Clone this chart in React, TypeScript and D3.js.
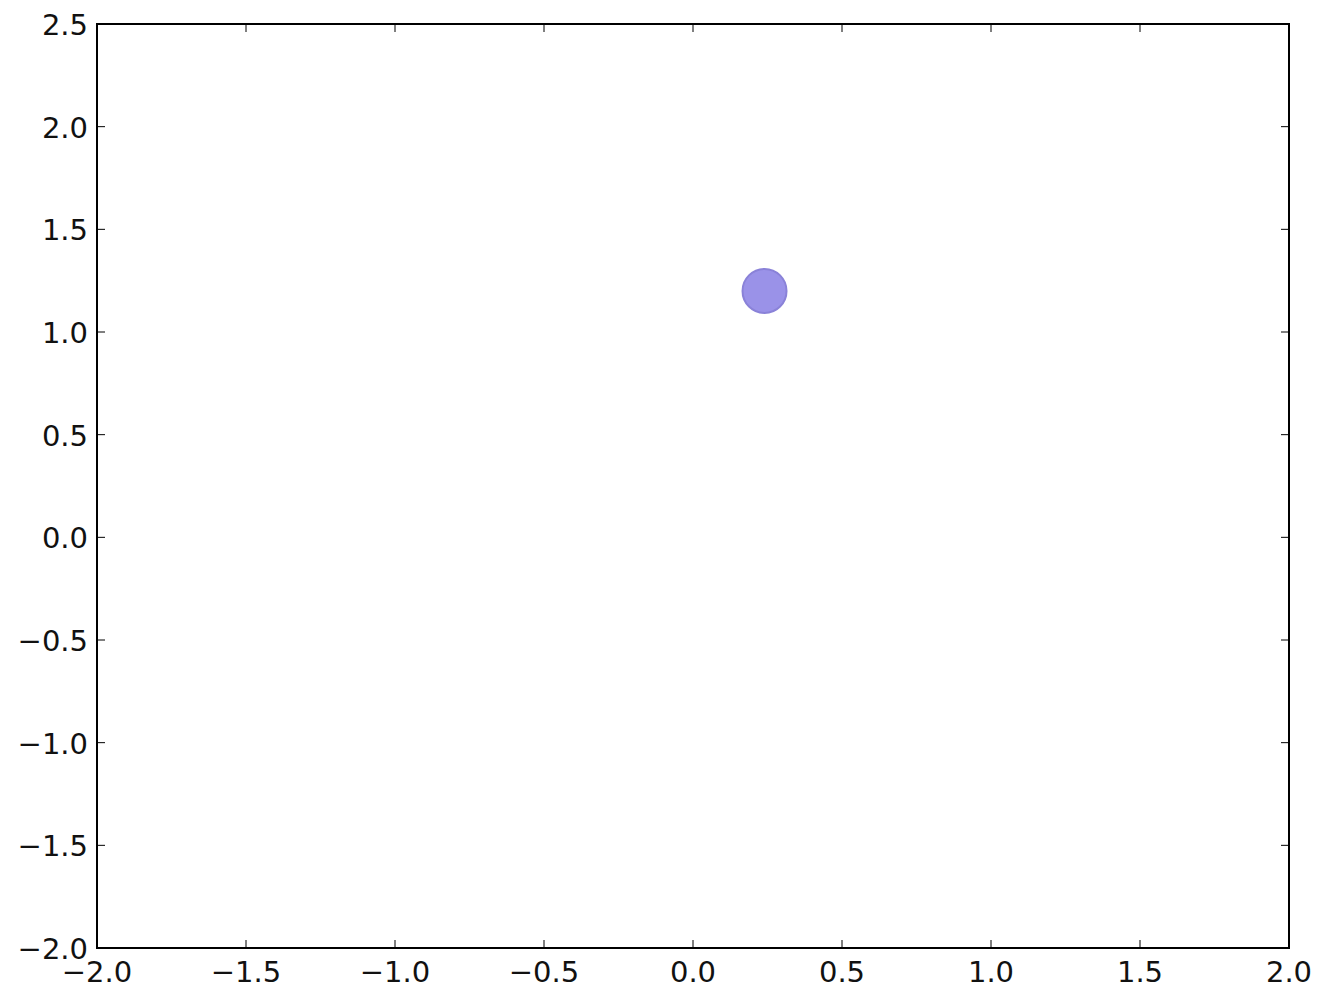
import React from "react";
import * as d3 from "d3";

const xTicks = [-2.0, -1.5, -1.0, -0.5, 0.0, 0.5, 1.0, 1.5, 2.0];
const yTicks = [-2.0, -1.5, -1.0, -0.5, 0.0, 0.5, 1.0, 1.5, 2.0, 2.5];
const pointsX = [0.24];
const pointsY = [1.2];
const xDomain = [-2, 2];
const yDomain = [-2, 2.5];

const W = 1319, H = 992;
const L = 97, R = 1289, T = 24, B = 948;

const fmt = (v: number) => {
  const s = v.toFixed(1);
  return v < 0 ? "\u2212" + s.slice(1) : s;
};

export default function App() {
  const x = d3.scaleLinear().domain(xDomain).range([L, R]);
  const y = d3.scaleLinear().domain(yDomain).range([B, T]);
  const tl = 8;
  const font = "DejaVu Sans, sans-serif";
  return (
    <svg width={W} height={H} style={{ position: "absolute", left: 0, top: 0, background: "#fff" }}>
      <rect x={0} y={0} width={W} height={H} fill="#fff" />
      {pointsX.map((px, i) => (
        <circle key={i} cx={x(px)} cy={y(pointsY[i])} r={22} fill="#9a92e8" stroke="#8a82d8" strokeWidth={2} />
      ))}
      {xTicks.map((t) => (
        <g key={"x" + t}>
          <line x1={x(t)} x2={x(t)} y1={B} y2={B - tl} stroke="#000" strokeWidth={1} />
          <line x1={x(t)} x2={x(t)} y1={T} y2={T + tl} stroke="#000" strokeWidth={1} />
          <text x={x(t)} y={982} textAnchor="middle" fontFamily={font} fontSize={29} fill="#111">{fmt(t)}</text>
        </g>
      ))}
      {yTicks.map((t) => (
        <g key={"y" + t}>
          <line x1={L} x2={L + tl} y1={y(t)} y2={y(t)} stroke="#000" strokeWidth={1} />
          <line x1={R} x2={R - tl} y1={y(t)} y2={y(t)} stroke="#000" strokeWidth={1} />
          <text x={88} y={y(t) + 11} textAnchor="end" fontFamily={font} fontSize={29} fill="#111">{fmt(t)}</text>
        </g>
      ))}
      <rect x={L} y={T} width={R - L} height={B - T} fill="none" stroke="#000" strokeWidth={2} />
    </svg>
  );
}
